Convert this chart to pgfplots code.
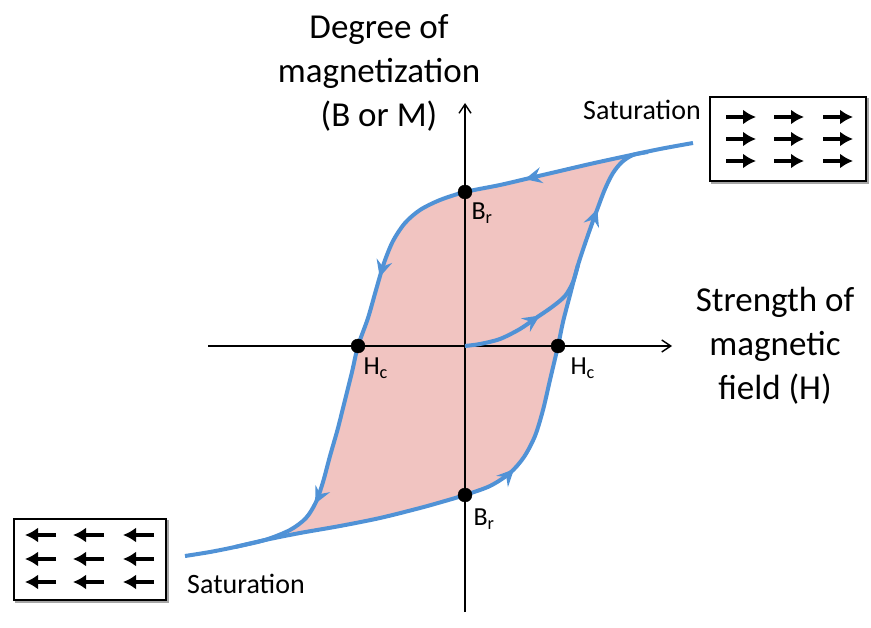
\documentclass[border=0pt]{standalone}
\usepackage{fontspec}
\setmainfont{Carlito}
\usepackage{pgfplots}
\pgfplotsset{compat=1.18}
\usetikzlibrary{arrows.meta,decorations.markings}
\definecolor{loopblue}{RGB}{80,146,214}
\definecolor{loopfill}{RGB}{241,196,193}
\tikzset{loopar/.tip={Stealth[length=17pt,width=16pt,inset=6pt]}}
\begin{document}
\begin{tikzpicture}
\begin{axis}[
  scale only axis, width=871pt, height=628pt,
  xmin=0, xmax=871, ymin=0, ymax=628, y dir=reverse,
  axis lines=none, clip=false,
]
\addplot[draw=none] coordinates {(0,0) (871,628)};
% filled loop
\addplot[fill=loopfill, draw=none, smooth] coordinates {
 (633,155)(622,157)(590,164)(560,171)(530,178)(500,185)(465,192)(440,200)(420,210)(405,223)(393,241)(384,263)(376,290)(368,318)(358,346)(352,372)(345,400)(338,428)(330,456)(323,482)(316,502)(306,518)(290,530)(265,540)
 (300,533)(340,526)(380,518)(420,508)(445,501)(465,495)(490,486)(510,473)(524,457)(535,436)(543,410)(550,380)(558,346)(563,322)(570,295)(578,265)(588,235)(597,210)(605,189)(613,173)(622,162)(633,155)};
% axes
\addplot[black, line width=1.4pt, -{Straight Barb[length=9pt,width=12pt,line width=1.4pt]}] coordinates {(208,346) (672,346)};
\addplot[black, line width=1.4pt, -{Straight Barb[length=9pt,width=12pt,line width=1.4pt]}] coordinates {(465,612) (465,103)};
% upper branch
\addplot[loopblue, line width=4pt, smooth,
  postaction={decorate},
  decoration={markings,
    mark=at position 172pt with {\arrow{loopar}},
    mark=at position 362pt with {\arrow{loopar}},
    mark=at position 598pt with {\arrow{loopar}}}]
 coordinates {(693,143)(660,149)(622,157)(590,164)(560,171)(530,178)(500,185)(465,192)(440,200)(420,210)(405,223)(393,241)(384,263)(376,290)(368,318)(358,346)(352,372)(345,400)(338,428)(330,456)(323,482)(316,502)(306,518)(290,530)(265,540)(235,547)(210,552)(185,556)};
% lower branch
\addplot[loopblue, line width=4pt, smooth,
  postaction={decorate},
  decoration={markings,
    mark=at position 292pt with {\arrow{loopar}},
    mark=at position 567pt with {\arrow{loopar}}}]
 coordinates {(235,547)(265,540)(300,533)(340,526)(380,518)(420,508)(445,501)(465,495)(490,486)(510,473)(524,457)(535,436)(543,410)(550,380)(558,346)(563,322)(570,295)(578,265)(588,235)(597,210)(605,189)(613,173)(622,162)(633,155)(648,152)};
% initial magnetization curve
\addplot[loopblue, line width=4pt, smooth,
  postaction={decorate},
  decoration={markings,
    mark=at position 82pt with {\arrow{loopar}}}]
 coordinates {(465,346)(480,344)(500,339)(520,329)(536,318)(552,307)(565,296)(573,282)(578,265)};
% points
\addplot[only marks, mark=*, mark size=7pt, black] coordinates {(465,192)(465,495)(358,346)(558,346)};
% boxes
\draw[black!35, line width=2pt] (axis cs:712,99) rectangle (axis cs:868,183);
\draw[black, line width=1.5pt, fill=white] (axis cs:710,97) rectangle (axis cs:866,181);
\draw[black!35, line width=2pt] (axis cs:16,521) rectangle (axis cs:168,602);
\draw[black, line width=1.5pt, fill=white] (axis cs:14,519) rectangle (axis cs:166,600);
\addplot[quiver={u=30,v=0}, black, line width=3.6pt, -{Latex[length=13pt,width=15pt]}] coordinates {
 (726,117)(774,117)(823,117)(726,139)(774,139)(823,139)(726,161)(774,161)(823,161)};
\addplot[quiver={u=-31,v=0}, black, line width=3.6pt, -{Latex[length=13pt,width=15pt]}] coordinates {
 (56,535)(104,535)(154,535)(56,559)(104,559)(154,559)(56,582)(104,582)(154,582)};
% texts
\node[align=center, font=\fontsize{35}{44}\selectfont] at (axis cs:379,73) {Degree of\\magnetization\\(B or M)};
\node[align=center, font=\fontsize{35}{44}\selectfont] at (axis cs:775,346) {Strength of\\magnetic\\field (H)};
\node[font=\fontsize{28}{32}\selectfont] at (axis cs:642,110) {Saturation};
\node[font=\fontsize{28}{32}\selectfont] at (axis cs:246,584) {Saturation};
\node[anchor=west, font=\fontsize{26}{28}\selectfont] at (axis cs:360,368) {H\textsubscript{c}};
\node[anchor=west, font=\fontsize{26}{28}\selectfont] at (axis cs:567,368) {H\textsubscript{c}};
\node[anchor=west, font=\fontsize{26}{28}\selectfont] at (axis cs:468,213) {B\textsubscript{r}};
\node[anchor=west, font=\fontsize{26}{28}\selectfont] at (axis cs:470,519) {B\textsubscript{r}};
\end{axis}
\end{tikzpicture}
\end{document}
